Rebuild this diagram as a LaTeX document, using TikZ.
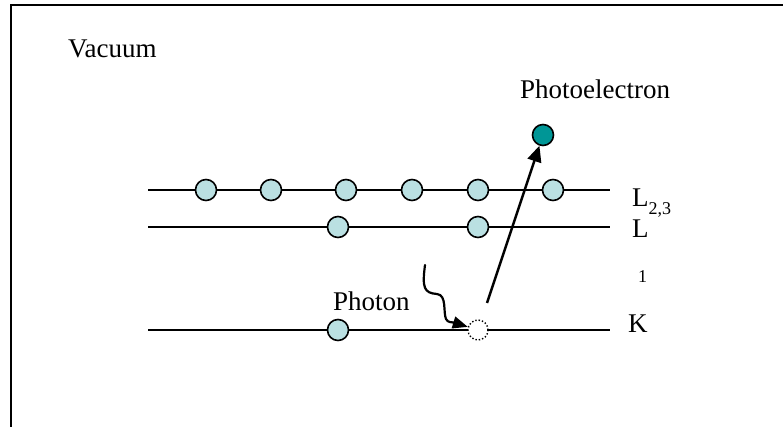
\documentclass[tikz,border=0pt]{standalone}
\usepackage{fontspec}
\setmainfont{Liberation Serif}
\usetikzlibrary{arrows.meta, positioning}
\definecolor{shellfill}{RGB}{186,224,226}
\definecolor{ejectfill}{RGB}{0,150,150}
\tikzset{
  level/.style={line width=2pt},
  electron/.style={circle, draw, line width=1.6pt, fill=shellfill, minimum size=21pt, inner sep=0pt},
  ejected/.style={electron, fill=ejectfill},
  hole/.style={circle, draw, dotted, line width=1.4pt, fill=white, minimum size=20pt, inner sep=0pt},
  lbl/.style={anchor=base west, inner sep=0pt, font=\fontsize{27}{30}\selectfont},
  sublbl/.style={anchor=base west, inner sep=0pt, font=\fontsize{18}{20}\selectfont}
}

\begin{document}
\begin{tikzpicture}[x=1pt, y=-1pt, >=Stealth]
  \useasboundingbox (0,0) rectangle (783,427);
  % frame
  \draw[line width=2.2pt] (11,427) -- (11,5) -- (783,5);
  \node[lbl] (vac) at (68,58) {Vacuum};
  % shells
  \coordinate (la) at (148,190); \coordinate (lb) at (610,190);
  \coordinate (ma) at (148,227); \coordinate (mb) at (610,227);
  \coordinate (ka) at (148,330); \coordinate (kb) at (610,330);
  \draw[level] (la) -- (lb);
  \draw[level] (ma) -- (mb);
  \draw[level] (ka) -- (kb);
  \foreach \x/\n in {206/1, 271/2, 346/3, 412/4, 478/5, 553/6}
    \node[electron] (e\n) at (\x,190) {};
  \node[electron] (m1) at (338,227) {};
  \node[electron] (m2) at (478,227) {};
  \node[electron] (k1) at (338,330) {};
  \node[hole] (khole) at (478,330) {};
  \node[ejected] (pe) at (543,135) {};
  \node[lbl] (petext) at (520,99) {Photoelectron};
  \node[lbl] (l23) at (632,207) {L\raisebox{-8pt}{\fontsize{18}{20}\selectfont 2,3}};
  \node[lbl] (l1) at (632,238) {L};
  \node[sublbl] (one) at (638,282) {1};
  \node[lbl] (kl) at (628,332) {K};
  \node[lbl] (ph) at (333,310) {Photon};
  % emission
  \coordinate (out) at (487,303);
  \draw[line width=2.4pt, -{Triangle[length=16pt, width=14pt]}] (out) -- (pe);
  % incoming photon
  \coordinate (in) at (425,265);
  \draw[line width=2.2pt, line cap=round, -{Triangle[length=15pt, width=12pt]}] (in)
    .. controls (422,288) and (424,293) .. (437,294)
    .. controls (447,295) and (443,312) .. (446,319)
    .. controls (448,323) and (452,322) .. (khole);
\end{tikzpicture}
\end{document}
